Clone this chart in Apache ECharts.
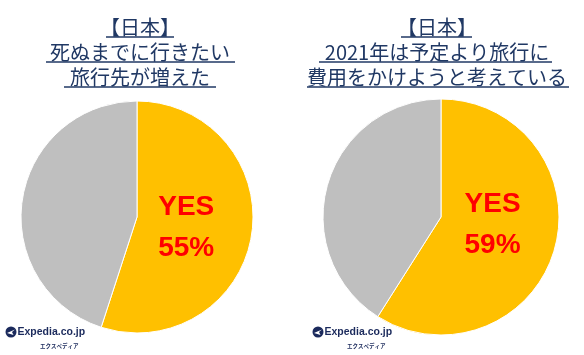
<!DOCTYPE html>
<html>
<head>
<meta charset="utf-8">
<script src="https://cdn.jsdelivr.net/npm/echarts@6/dist/echarts.min.js"></script>
<style>
  html, body { margin: 0; padding: 0; background: #fff; }
  #main { width: 584px; height: 355px; }
</style>
</head>
<body>
<div id="main"></div>
<script>
// データ
var categories = ['YES', 'NO'];
var leftValues = [55, 45];
var rightValues = [59, 41];
var leftTitle = ['【日本】', '死ぬまでに行きたい', '旅行先が増えた'];
var rightTitle = ['【日本】', '2021年は予定より旅行に', '費用をかけようと考えている'];

var navy = '#203864';
var colors = ['#FFC000', '#BFBFBF'];

// タイトル（下線つき）
function titleBlock(lines, cx, spans) {
  var els = [];
  lines.forEach(function (t, i) {
    var y = 27 + i * 25;
    els.push({
      type: 'text', x: cx, y: y,
      style: {
        text: t, fill: navy, align: 'center', verticalAlign: 'middle',
        font: '20px "Noto Sans CJK JP"'
      }
    });
    els.push({
      type: 'line',
      shape: { x1: spans[i][0], y1: y + 10, x2: spans[i][1], y2: y + 10 },
      style: { stroke: navy, lineWidth: 1.5 }
    });
  });
  return els;
}

// ロゴ
function logo(x, y) {
  return {
    type: 'group', x: x, y: y,
    children: [
      { type: 'circle', shape: { cx: 0, cy: 0, r: 5.5 }, style: { fill: '#1B2A5C' } },
      { type: 'polygon', shape: { points: [[-4, 1], [4, -2.5], [1, 0], [2.5, 3]] }, style: { fill: '#fff' } },
      { type: 'text', x: 6.5, y: 0.5, style: { text: 'Expedia.co.jp', fill: '#1B2A5C', font: 'bold 10.5px "Liberation Sans"', verticalAlign: 'middle' } },
      { type: 'text', x: 29, y: 14, style: { text: 'エクスペディア', fill: '#1B2A5C', font: 'bold 5.5px "Noto Sans CJK JP"', verticalAlign: 'middle' } }
    ]
  };
}

function pieSeries(values, center, radius, shift) {
  return {
    type: 'pie',
    center: center,
    radius: radius,
    startAngle: 90,
    silent: true,
    animation: false,
    itemStyle: { borderColor: '#fff', borderWidth: 1 },
    label: {
      show: true, position: 'inside',
      formatter: function (p) { return p.dataIndex === 0 ? '{t|' + p.name + '}\n{t|' + p.value + '%}' : ''; },
      rich: { t: { fontFamily: 'Liberation Sans', fontSize: 28, fontWeight: 'bold', color: '#FF0000', lineHeight: 41, align: 'center' } }
    },
    labelLine: { show: false },
    labelLayout: { dx: shift[0], dy: shift[1] },
    data: categories.map(function (c, i) {
      return { name: c, value: values[i], itemStyle: { color: colors[i] } };
    })
  };
}

var chart = echarts.init(document.getElementById('main'));
chart.setOption({
  backgroundColor: '#fff',
  series: [
    pieSeries(leftValues, [137, 217], 116, [-11, 1]),
    pieSeries(rightValues, [441, 217], 118, [-8, -10])
  ],
  graphic: titleBlock(leftTitle, 140, [[106, 174], [46, 235], [64, 216]])
    .concat(titleBlock(rightTitle, 437, [[401, 472], [319, 552], [307, 569]]))
    .concat([logo(11, 332), logo(318, 332)])
});
</script>
</body>
</html>
